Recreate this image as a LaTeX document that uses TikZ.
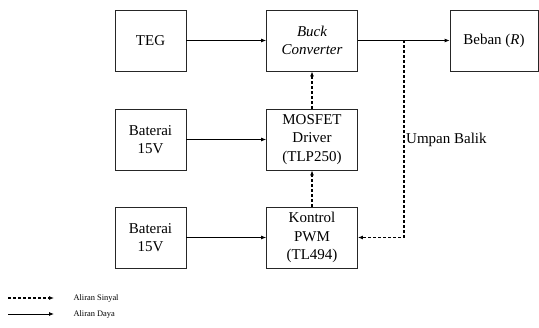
\documentclass[tikz,border=0pt]{standalone}
\usepackage{fontspec}
\setmainfont{Liberation Serif}
\usetikzlibrary{arrows.meta}
\begin{document}
\begin{tikzpicture}[x=1pt,y=-1pt,
  blok/.style={draw=black!85, line width=0.8pt, fill=white, align=center,
    inner sep=0pt, font=\fontsize{15}{18.5}\selectfont},
  daya/.style={line width=0.8pt, -{Latex[length=5pt,width=4pt]}},
  sinyal/.style={line width=1.5pt, dash pattern=on 3pt off 2pt,
    -{Latex[length=5pt,width=4pt]}},
  ket/.style={font=\fontsize{8.4}{10}\selectfont, anchor=west}]
\useasboundingbox (0,0) rectangle (539,328);

% blocks
\node[blok, minimum width=71pt, minimum height=61pt] (teg) at (150.5,40.5) {TEG};
\node[blok, minimum width=91pt, minimum height=61pt] (buck) at (312,40.5) {\itshape Buck\\\itshape Converter};
\node[blok, minimum width=88pt, minimum height=61pt] (beban) at (494,40.5) {Beban (\textit{R})};
\node[blok, minimum width=71pt, minimum height=61pt] (bat1) at (150.5,139.5) {Baterai\\15V};
\node[blok, minimum width=91pt, minimum height=61pt] (drv) at (312,139.5) {MOSFET\\Driver\\(TLP250)};
\node[blok, minimum width=71pt, minimum height=61pt] (bat2) at (150.5,237.5) {Baterai\\15V};
\node[blok, minimum width=91pt, minimum height=61pt] (pwm) at (312,237.5) {Kontrol\\PWM\\(TL494)};

% power paths
\draw[daya] (teg) -- (buck);
\draw[daya] (buck) -- (beban);
\draw[daya] (bat1) -- (drv);
\draw[daya] (bat2) -- (pwm);

% signal paths
\coordinate (cab) at (404,40.5);
\draw[sinyal] (pwm) -- (drv);
\draw[sinyal] (drv) -- (buck);
\draw[sinyal] (cab) -- (cab |- pwm.east) -- (pwm.east);
\node[anchor=west, font=\fontsize{15}{18}\selectfont, inner sep=0pt] (umpan) at (406,140) {Umpan Balik};

% legend
\coordinate (ls1) at (8,298);
\coordinate (le1) at (54,298);
\coordinate (ls2) at (8,314);
\coordinate (le2) at (54,314);
\draw[sinyal, line width=1.2pt] (ls1) -- (le1);
\draw[daya] (ls2) -- (le2);
\node[ket] (k1) at (70,298) {Aliran Sinyal};
\node[ket] (k2) at (70,314) {Aliran Daya};
\end{tikzpicture}
\end{document}
